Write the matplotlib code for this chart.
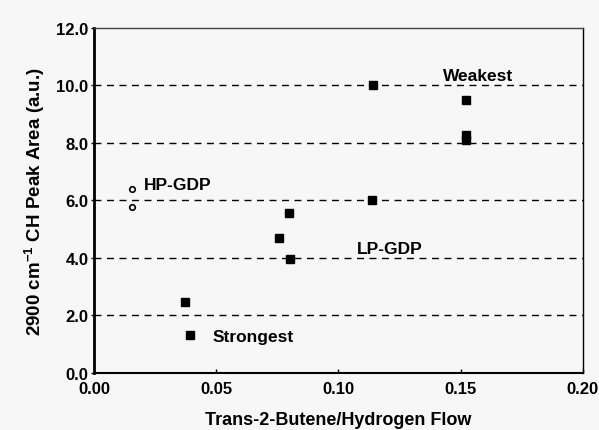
import matplotlib.pyplot as plt

# HP-GDP (open circles)
hp_x = [0.0155, 0.0155]
hp_y = [6.38, 5.76]

# LP-GDP (filled squares)
lp_x = [0.0372, 0.0393, 0.0758, 0.0796, 0.0802, 0.1143, 0.1136, 0.1524, 0.1524, 0.1524]
lp_y = [2.44, 1.30, 4.67, 5.57, 3.97, 10.0, 6.0, 9.48, 8.28, 8.10]

xticks = [0.00, 0.05, 0.10, 0.15, 0.20]
yticks = [0.0, 2.0, 4.0, 6.0, 8.0, 10.0, 12.0]

plt.rcParams['font.family'] = ['Liberation Sans', 'DejaVu Sans']
plt.rcParams['font.weight'] = 'bold'
plt.rcParams['mathtext.fontset'] = 'custom'
plt.rcParams['mathtext.bf'] = 'Liberation Sans:bold'
plt.rcParams['mathtext.rm'] = 'Liberation Sans:bold'
plt.rcParams['mathtext.default'] = 'bf'

fig = plt.figure(figsize=(5.99, 4.31), dpi=100, facecolor='#f7f7f7')
ax = fig.add_axes([0.157, 0.1334, 0.816, 0.7993])
ax.set_facecolor('#f7f7f7')

for y in yticks[1:-1]:
    ax.axhline(y, color='black', lw=1.0, ls=(0, (5, 4)), zorder=1)

ax.plot(hp_x, hp_y, 'o', mfc='none', mec='black', ms=4, mew=1.2, zorder=3)
ax.plot(lp_x, lp_y, 's', color='black', ms=5.5, zorder=3)

ax.text(0.0205, 6.56, 'HP-GDP', fontsize=12.5, va='center', ha='left')
ax.text(0.1426, 10.35, 'Weakest', fontsize=12.5, va='center', ha='left')
ax.text(0.1074, 4.33, 'LP-GDP', fontsize=12.5, va='center', ha='left')
ax.text(0.0487, 1.27, 'Strongest', fontsize=12.5, va='center', ha='left')

ax.set_xlim(0, 0.2)
ax.set_ylim(0, 12)
ax.set_xticks(xticks)
ax.set_yticks(yticks)
ax.set_xticklabels(['%.2f' % v for v in xticks], fontsize=12)
ax.set_yticklabels(['%.1f' % v for v in yticks], fontsize=12)
ax.tick_params(axis='x', direction='in', length=3, width=1, pad=6)
ax.tick_params(axis='y', direction='out', length=2, width=1, pad=2)

ax.spines['left'].set_linewidth(2)
ax.spines['bottom'].set_linewidth(1.5)
ax.spines['right'].set_linewidth(1)
ax.spines['top'].set_linewidth(1)
ax.spines['top'].set_color('#444444')

ax.set_xlabel('Trans-2-Butene/Hydrogen Flow', fontsize=13, fontweight='bold', labelpad=11)
ax.set_ylabel('2900 cm$^{-1}$ CH Peak Area (a.u.)', fontsize=13.5, fontweight='bold', labelpad=7)

fig.savefig('out.png', dpi=100, facecolor=fig.get_facecolor())
